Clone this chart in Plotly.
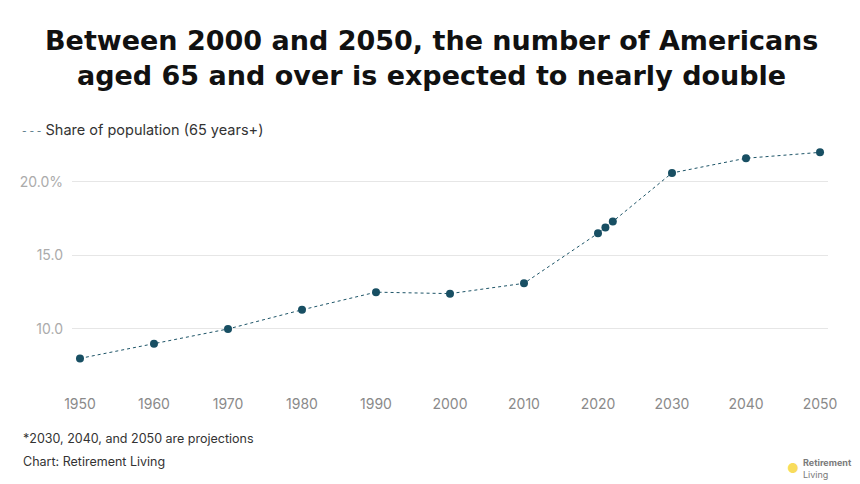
import plotly.graph_objects as go

years = [1950, 1960, 1970, 1980, 1990, 2000, 2010, 2020, 2021, 2022, 2030, 2040, 2050]
share = [8.0, 9.0, 10.0, 11.3, 12.5, 12.4, 13.1, 16.5, 16.9, 17.3, 20.6, 21.6, 22.0]
x_ticks = [1950, 1960, 1970, 1980, 1990, 2000, 2010, 2020, 2030, 2040, 2050]
y_ticks = [10, 15, 20]
y_tick_labels = ["10.0", "15.0", "20.0%"]
series_name = "Share of population (65 years+)"
title_lines = ["Between 2000 and 2050, the number of Americans",
               "aged 65 and over is expected to nearly double"]

line_color = "#1e5568"
font_fam = "Inter, Lato, sans-serif"

fig = go.Figure()
fig.add_trace(go.Scatter(
    x=years, y=share, mode="lines+markers", name=series_name,
    line=dict(color=line_color, width=1, dash="3px,3px"),
    marker=dict(color="#184f63", size=8),
    showlegend=False, hoverinfo="x+y",
))

# page body has an 8px margin; lay out in page coordinates minus that offset
O = 8
W, H = 860, 484
L = 72 - O
R = W - (828 - O)
T = 145 - O
B = H - (394 - O)
pw, ph = W - L - R, H - T - B


def px(xp):
    return (xp - O - L) / pw


def py(yp):
    return (H - B - (yp - O)) / ph


annotations = [
    dict(text=title_lines[0], x=px(431), y=py(40)),
    dict(text=title_lines[1], x=px(431), y=py(75)),
]
for a in annotations:
    a.update(xref="paper", yref="paper", xanchor="center", yanchor="middle", showarrow=False,
             font=dict(family="DejaVu Sans", size=27, color="#111", weight="bold"))

annotations += [
    dict(text="<span style='color:#4a6f7e;font-size:10px'>- - -</span> " + series_name,
         xref="paper", yref="paper", x=px(20), y=py(130), xanchor="left", yanchor="middle",
         showarrow=False, font=dict(size=14.5, color="#333")),
    dict(text="*2030, 2040, and 2050 are projections", xref="paper", yref="paper",
         x=px(21), y=py(438), xanchor="left", yanchor="middle", showarrow=False,
         font=dict(size=12.5, color="#333")),
    dict(text="Chart: Retirement Living", xref="paper", yref="paper",
         x=px(21), y=py(461), xanchor="left", yanchor="middle", showarrow=False,
         font=dict(size=12.5, color="#333")),
    dict(text="<b>Retirement</b><br>Living", xref="paper", yref="paper",
         x=px(801), y=py(468), xanchor="left", yanchor="middle", showarrow=False,
         align="left", font=dict(size=9, color="#7a7a7a")),
    dict(text="●", xref="paper", yref="paper",
         x=px(793), y=py(468), xanchor="center", yanchor="middle", showarrow=False,
         font=dict(size=13, color="#f8dc5c")),
]

fig.update_layout(
    width=W, height=H,
    margin=dict(l=L, r=R, t=T, b=B, autoexpand=False),
    paper_bgcolor="white", plot_bgcolor="white",
    font=dict(family=font_fam, color="#333"),
    showlegend=False,
    xaxis=dict(
        range=[1948.92, 2051.08], tickvals=x_ticks, automargin=False,
        showgrid=False, zeroline=False, showline=False,
        tickfont=dict(size=14, color="#8a8a8a"), ticks="",
    ),
    yaxis=dict(
        range=[5.58, 22.5], tickvals=y_ticks, ticktext=y_tick_labels, automargin=False,
        showgrid=True, gridcolor="#e6e6e6", gridwidth=1, zeroline=False,
        showline=False, tickfont=dict(size=14, color="#ababab"), ticks="",
        ticklabelstandoff=8,
    ),
    annotations=annotations,
)

fig.write_html("out.html")
